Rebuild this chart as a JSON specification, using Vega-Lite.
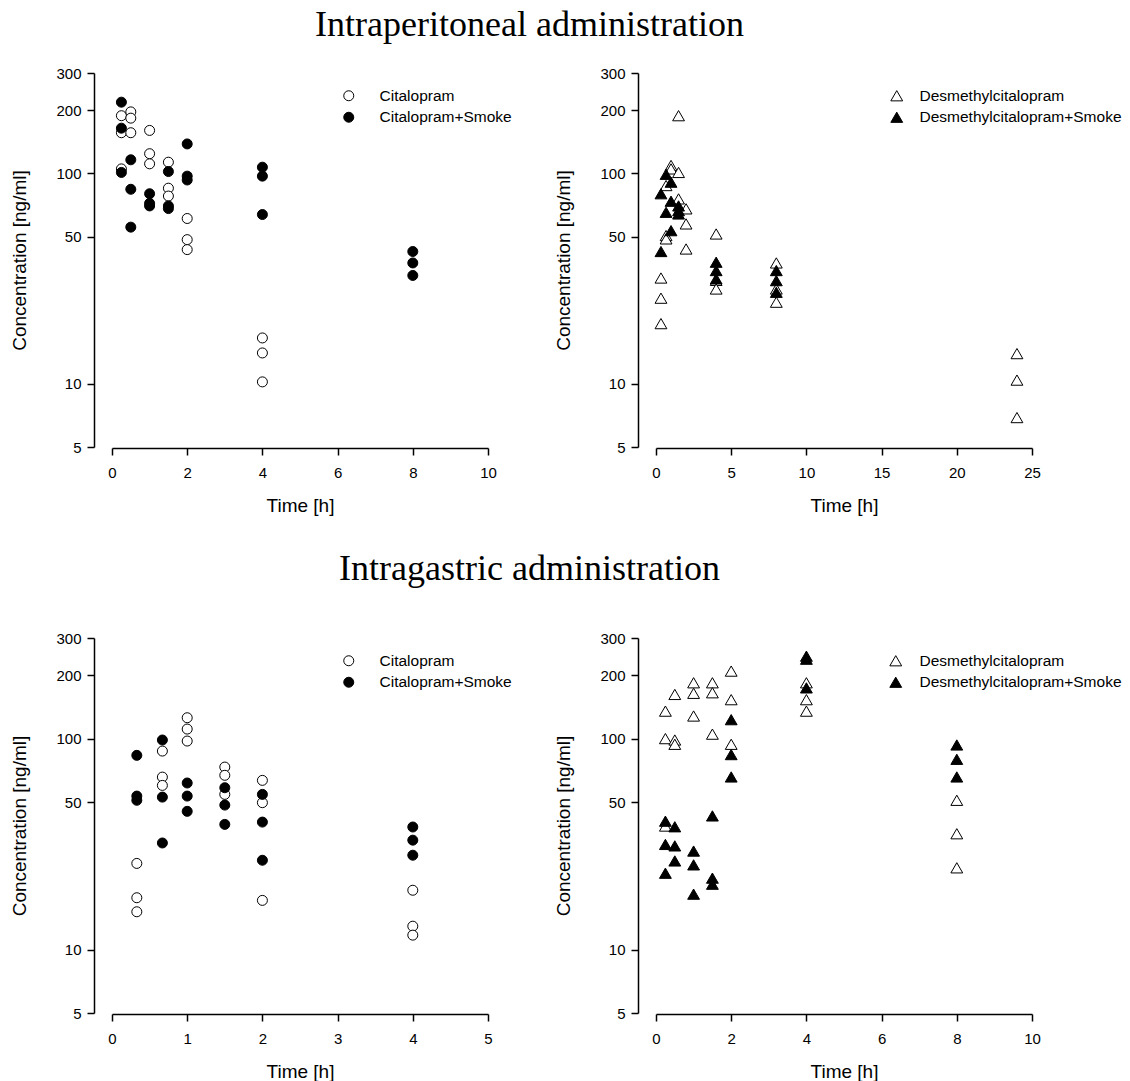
{
  "$schema": "https://vega.github.io/schema/vega-lite/v6.json",
  "padding": {"left": 10, "top": 7, "right": 0, "bottom": 0},
  "background": "white",
  "config": {
    "view": {"stroke": null},
    "font": "Liberation Sans",
    "axis": {"domainColor": "black", "domainWidth": 1.5, "tickColor": "black", "tickWidth": 1.5, "tickSize": 7, "labelColor": "black", "labelFontSize": 15, "labelFont": "Liberation Sans", "titleFont": "Liberation Sans", "titleFontSize": 19, "titleFontWeight": "normal", "titleColor": "black", "grid": false},
    "axisX": {"labelPadding": 10, "titlePadding": 16, "offset": 1, "labelFlush": false},
    "axisY": {"labelPadding": 6, "titlePadding": 26, "offset": 18, "labelFlush": false},
    "legend": {"title": null, "orient": "none", "padding": 0, "labelFontSize": 15.5, "labelColor": "black", "labelFont": "Liberation Sans", "labelLimit": 400, "symbolStrokeColor": "black", "symbolStrokeWidth": 1, "rowPadding": 4.5},
    "title": {"font": "Liberation Serif", "fontSize": 36, "fontWeight": "normal", "color": "black", "anchor": "middle", "dx": -37}
  },
  "datasets": {
    "d": [
      {"panel": "A", "g": "Citalopram", "t": 0.25, "c": 188},
      {"panel": "A", "g": "Citalopram", "t": 0.25, "c": 156},
      {"panel": "A", "g": "Citalopram", "t": 0.25, "c": 105},
      {"panel": "A", "g": "Citalopram", "t": 0.5, "c": 196},
      {"panel": "A", "g": "Citalopram", "t": 0.5, "c": 183},
      {"panel": "A", "g": "Citalopram", "t": 0.5, "c": 156},
      {"panel": "A", "g": "Citalopram", "t": 1, "c": 160},
      {"panel": "A", "g": "Citalopram", "t": 1, "c": 124},
      {"panel": "A", "g": "Citalopram", "t": 1, "c": 111},
      {"panel": "A", "g": "Citalopram", "t": 1.5, "c": 113},
      {"panel": "A", "g": "Citalopram", "t": 1.5, "c": 85},
      {"panel": "A", "g": "Citalopram", "t": 1.5, "c": 78},
      {"panel": "A", "g": "Citalopram", "t": 2, "c": 61},
      {"panel": "A", "g": "Citalopram", "t": 2, "c": 48.4},
      {"panel": "A", "g": "Citalopram", "t": 2, "c": 43.4},
      {"panel": "A", "g": "Citalopram", "t": 4, "c": 16.5},
      {"panel": "A", "g": "Citalopram", "t": 4, "c": 14.0},
      {"panel": "A", "g": "Citalopram", "t": 4, "c": 10.2},
      {"panel": "A", "g": "Citalopram+Smoke", "t": 0.25, "c": 218},
      {"panel": "A", "g": "Citalopram+Smoke", "t": 0.25, "c": 164},
      {"panel": "A", "g": "Citalopram+Smoke", "t": 0.25, "c": 101},
      {"panel": "A", "g": "Citalopram+Smoke", "t": 0.5, "c": 116},
      {"panel": "A", "g": "Citalopram+Smoke", "t": 0.5, "c": 84},
      {"panel": "A", "g": "Citalopram+Smoke", "t": 0.5, "c": 55.5},
      {"panel": "A", "g": "Citalopram+Smoke", "t": 1, "c": 80},
      {"panel": "A", "g": "Citalopram+Smoke", "t": 1, "c": 72},
      {"panel": "A", "g": "Citalopram+Smoke", "t": 1, "c": 70},
      {"panel": "A", "g": "Citalopram+Smoke", "t": 1.5, "c": 102},
      {"panel": "A", "g": "Citalopram+Smoke", "t": 1.5, "c": 70},
      {"panel": "A", "g": "Citalopram+Smoke", "t": 1.5, "c": 68},
      {"panel": "A", "g": "Citalopram+Smoke", "t": 2, "c": 138},
      {"panel": "A", "g": "Citalopram+Smoke", "t": 2, "c": 97},
      {"panel": "A", "g": "Citalopram+Smoke", "t": 2, "c": 93},
      {"panel": "A", "g": "Citalopram+Smoke", "t": 4, "c": 107},
      {"panel": "A", "g": "Citalopram+Smoke", "t": 4, "c": 97},
      {"panel": "A", "g": "Citalopram+Smoke", "t": 4, "c": 63.7},
      {"panel": "A", "g": "Citalopram+Smoke", "t": 8, "c": 42.5},
      {"panel": "A", "g": "Citalopram+Smoke", "t": 8, "c": 37.5},
      {"panel": "A", "g": "Citalopram+Smoke", "t": 8, "c": 32.7},

      {"panel": "B", "g": "Desmethylcitalopram", "t": 0.33, "c": 31.8},
      {"panel": "B", "g": "Desmethylcitalopram", "t": 0.33, "c": 25.5},
      {"panel": "B", "g": "Desmethylcitalopram", "t": 0.33, "c": 19.3},
      {"panel": "B", "g": "Desmethylcitalopram", "t": 0.67, "c": 87.5},
      {"panel": "B", "g": "Desmethylcitalopram", "t": 0.67, "c": 50.6},
      {"panel": "B", "g": "Desmethylcitalopram", "t": 0.67, "c": 48.8},
      {"panel": "B", "g": "Desmethylcitalopram", "t": 1, "c": 109},
      {"panel": "B", "g": "Desmethylcitalopram", "t": 1, "c": 105},
      {"panel": "B", "g": "Desmethylcitalopram", "t": 1.5, "c": 188},
      {"panel": "B", "g": "Desmethylcitalopram", "t": 1.5, "c": 101},
      {"panel": "B", "g": "Desmethylcitalopram", "t": 1.5, "c": 75.6},
      {"panel": "B", "g": "Desmethylcitalopram", "t": 2, "c": 67.8},
      {"panel": "B", "g": "Desmethylcitalopram", "t": 2, "c": 57.5},
      {"panel": "B", "g": "Desmethylcitalopram", "t": 2, "c": 43.7},
      {"panel": "B", "g": "Desmethylcitalopram", "t": 4, "c": 51.5},
      {"panel": "B", "g": "Desmethylcitalopram", "t": 4, "c": 31},
      {"panel": "B", "g": "Desmethylcitalopram", "t": 4, "c": 28.2},
      {"panel": "B", "g": "Desmethylcitalopram", "t": 8, "c": 37.5},
      {"panel": "B", "g": "Desmethylcitalopram", "t": 8, "c": 28.2},
      {"panel": "B", "g": "Desmethylcitalopram", "t": 8, "c": 24.4},
      {"panel": "B", "g": "Desmethylcitalopram", "t": 24, "c": 13.9},
      {"panel": "B", "g": "Desmethylcitalopram", "t": 24, "c": 10.4},
      {"panel": "B", "g": "Desmethylcitalopram", "t": 24, "c": 6.9},
      {"panel": "B", "g": "Desmethylcitalopram+Smoke", "t": 0.33, "c": 80},
      {"panel": "B", "g": "Desmethylcitalopram+Smoke", "t": 0.33, "c": 42.5},
      {"panel": "B", "g": "Desmethylcitalopram+Smoke", "t": 0.67, "c": 99},
      {"panel": "B", "g": "Desmethylcitalopram+Smoke", "t": 0.67, "c": 65.3},
      {"panel": "B", "g": "Desmethylcitalopram+Smoke", "t": 1, "c": 90.8},
      {"panel": "B", "g": "Desmethylcitalopram+Smoke", "t": 1, "c": 73.7},
      {"panel": "B", "g": "Desmethylcitalopram+Smoke", "t": 1, "c": 53.4},
      {"panel": "B", "g": "Desmethylcitalopram+Smoke", "t": 1.5, "c": 70},
      {"panel": "B", "g": "Desmethylcitalopram+Smoke", "t": 1.5, "c": 66.5},
      {"panel": "B", "g": "Desmethylcitalopram+Smoke", "t": 1.5, "c": 64.1},
      {"panel": "B", "g": "Desmethylcitalopram+Smoke", "t": 4, "c": 37.8},
      {"panel": "B", "g": "Desmethylcitalopram+Smoke", "t": 4, "c": 34.5},
      {"panel": "B", "g": "Desmethylcitalopram+Smoke", "t": 4, "c": 31.5},
      {"panel": "B", "g": "Desmethylcitalopram+Smoke", "t": 8, "c": 34.5},
      {"panel": "B", "g": "Desmethylcitalopram+Smoke", "t": 8, "c": 30.9},
      {"panel": "B", "g": "Desmethylcitalopram+Smoke", "t": 8, "c": 27.2},

      {"panel": "C", "g": "Citalopram", "t": 0.33, "c": 25.6},
      {"panel": "C", "g": "Citalopram", "t": 0.33, "c": 17.6},
      {"panel": "C", "g": "Citalopram", "t": 0.33, "c": 15.1},
      {"panel": "C", "g": "Citalopram", "t": 0.67, "c": 87.3},
      {"panel": "C", "g": "Citalopram", "t": 0.67, "c": 65.7},
      {"panel": "C", "g": "Citalopram", "t": 0.67, "c": 60},
      {"panel": "C", "g": "Citalopram", "t": 1, "c": 125.6},
      {"panel": "C", "g": "Citalopram", "t": 1, "c": 111},
      {"panel": "C", "g": "Citalopram", "t": 1, "c": 97.4},
      {"panel": "C", "g": "Citalopram", "t": 1.5, "c": 73.3},
      {"panel": "C", "g": "Citalopram", "t": 1.5, "c": 67},
      {"panel": "C", "g": "Citalopram", "t": 1.5, "c": 54.4},
      {"panel": "C", "g": "Citalopram", "t": 2, "c": 63.4},
      {"panel": "C", "g": "Citalopram", "t": 2, "c": 49.7},
      {"panel": "C", "g": "Citalopram", "t": 2, "c": 17.1},
      {"panel": "C", "g": "Citalopram", "t": 4, "c": 19.1},
      {"panel": "C", "g": "Citalopram", "t": 4, "c": 12.9},
      {"panel": "C", "g": "Citalopram", "t": 4, "c": 11.7},
      {"panel": "C", "g": "Citalopram+Smoke", "t": 0.33, "c": 83.3},
      {"panel": "C", "g": "Citalopram+Smoke", "t": 0.33, "c": 53.4},
      {"panel": "C", "g": "Citalopram+Smoke", "t": 0.33, "c": 51},
      {"panel": "C", "g": "Citalopram+Smoke", "t": 0.67, "c": 98.5},
      {"panel": "C", "g": "Citalopram+Smoke", "t": 0.67, "c": 52.8},
      {"panel": "C", "g": "Citalopram+Smoke", "t": 0.67, "c": 32},
      {"panel": "C", "g": "Citalopram+Smoke", "t": 1, "c": 61.6},
      {"panel": "C", "g": "Citalopram+Smoke", "t": 1, "c": 53.4},
      {"panel": "C", "g": "Citalopram+Smoke", "t": 1, "c": 45.2},
      {"panel": "C", "g": "Citalopram+Smoke", "t": 1.5, "c": 58.5},
      {"panel": "C", "g": "Citalopram+Smoke", "t": 1.5, "c": 48.4},
      {"panel": "C", "g": "Citalopram+Smoke", "t": 1.5, "c": 39.2},
      {"panel": "C", "g": "Citalopram+Smoke", "t": 2, "c": 54.4},
      {"panel": "C", "g": "Citalopram+Smoke", "t": 2, "c": 40.2},
      {"panel": "C", "g": "Citalopram+Smoke", "t": 2, "c": 26.5},
      {"panel": "C", "g": "Citalopram+Smoke", "t": 4, "c": 38.1},
      {"panel": "C", "g": "Citalopram+Smoke", "t": 4, "c": 33},
      {"panel": "C", "g": "Citalopram+Smoke", "t": 4, "c": 28},

      {"panel": "D", "g": "Desmethylcitalopram", "t": 0.25, "c": 135},
      {"panel": "D", "g": "Desmethylcitalopram", "t": 0.25, "c": 100},
      {"panel": "D", "g": "Desmethylcitalopram", "t": 0.25, "c": 38.5},
      {"panel": "D", "g": "Desmethylcitalopram", "t": 0.5, "c": 162},
      {"panel": "D", "g": "Desmethylcitalopram", "t": 0.5, "c": 98.5},
      {"panel": "D", "g": "Desmethylcitalopram", "t": 0.5, "c": 94},
      {"panel": "D", "g": "Desmethylcitalopram", "t": 1, "c": 184},
      {"panel": "D", "g": "Desmethylcitalopram", "t": 1, "c": 164},
      {"panel": "D", "g": "Desmethylcitalopram", "t": 1, "c": 128},
      {"panel": "D", "g": "Desmethylcitalopram", "t": 1.5, "c": 184},
      {"panel": "D", "g": "Desmethylcitalopram", "t": 1.5, "c": 165},
      {"panel": "D", "g": "Desmethylcitalopram", "t": 1.5, "c": 105},
      {"panel": "D", "g": "Desmethylcitalopram", "t": 2, "c": 209},
      {"panel": "D", "g": "Desmethylcitalopram", "t": 2, "c": 153},
      {"panel": "D", "g": "Desmethylcitalopram", "t": 2, "c": 94},
      {"panel": "D", "g": "Desmethylcitalopram", "t": 4, "c": 184},
      {"panel": "D", "g": "Desmethylcitalopram", "t": 4, "c": 153},
      {"panel": "D", "g": "Desmethylcitalopram", "t": 4, "c": 135},
      {"panel": "D", "g": "Desmethylcitalopram", "t": 8, "c": 51},
      {"panel": "D", "g": "Desmethylcitalopram", "t": 8, "c": 35.4},
      {"panel": "D", "g": "Desmethylcitalopram", "t": 8, "c": 24.4},
      {"panel": "D", "g": "Desmethylcitalopram+Smoke", "t": 0.25, "c": 40.6},
      {"panel": "D", "g": "Desmethylcitalopram+Smoke", "t": 0.25, "c": 31.5},
      {"panel": "D", "g": "Desmethylcitalopram+Smoke", "t": 0.25, "c": 23},
      {"panel": "D", "g": "Desmethylcitalopram+Smoke", "t": 0.5, "c": 38.2},
      {"panel": "D", "g": "Desmethylcitalopram+Smoke", "t": 0.5, "c": 31},
      {"panel": "D", "g": "Desmethylcitalopram+Smoke", "t": 0.5, "c": 26.3},
      {"panel": "D", "g": "Desmethylcitalopram+Smoke", "t": 1, "c": 29.3},
      {"panel": "D", "g": "Desmethylcitalopram+Smoke", "t": 1, "c": 25.2},
      {"panel": "D", "g": "Desmethylcitalopram+Smoke", "t": 1, "c": 18.3},
      {"panel": "D", "g": "Desmethylcitalopram+Smoke", "t": 1.5, "c": 43},
      {"panel": "D", "g": "Desmethylcitalopram+Smoke", "t": 1.5, "c": 21.8},
      {"panel": "D", "g": "Desmethylcitalopram+Smoke", "t": 1.5, "c": 20.4},
      {"panel": "D", "g": "Desmethylcitalopram+Smoke", "t": 2, "c": 123},
      {"panel": "D", "g": "Desmethylcitalopram+Smoke", "t": 2, "c": 84},
      {"panel": "D", "g": "Desmethylcitalopram+Smoke", "t": 2, "c": 65.8},
      {"panel": "D", "g": "Desmethylcitalopram+Smoke", "t": 4, "c": 246},
      {"panel": "D", "g": "Desmethylcitalopram+Smoke", "t": 4, "c": 238},
      {"panel": "D", "g": "Desmethylcitalopram+Smoke", "t": 4, "c": 174},
      {"panel": "D", "g": "Desmethylcitalopram+Smoke", "t": 8, "c": 93.3},
      {"panel": "D", "g": "Desmethylcitalopram+Smoke", "t": 8, "c": 79.8},
      {"panel": "D", "g": "Desmethylcitalopram+Smoke", "t": 8, "c": 65.8}
    ]
  },
  "resolve": {"scale": {"shape": "independent", "fill": "independent", "stroke": "independent", "x": "independent", "y": "independent"}, "legend": {"shape": "independent", "fill": "independent", "stroke": "independent"}},
  "spacing": 36,
  "vconcat": [
    {
      "title": {"text": "Intraperitoneal administration", "offset": 22},
      "spacing": 168,
      "bounds": "flush",
      "resolve": {"scale": {"shape": "independent", "fill": "independent", "stroke": "independent", "x": "independent", "y": "independent"}, "legend": {"shape": "independent", "fill": "independent", "stroke": "independent"}},
      "hconcat": [
        {
          "width": 376, "height": 374,
          "data": {"name": "d"},
          "transform": [{"filter": "datum.panel == 'A'"}],
          "mark": {"type": "point", "filled": true, "strokeWidth": 1, "size": 100, "opacity": 1},
          "encoding": {
            "x": {"field": "t", "type": "quantitative", "scale": {"domain": [0, 10], "nice": false}, "axis": {"values": [0, 2, 4, 6, 8, 10], "title": "Time [h]"}},
            "y": {"field": "c", "type": "quantitative", "scale": {"type": "log", "domain": [5, 300], "nice": false}, "axis": {"values": [5, 10, 50, 100, 200, 300], "format": "d", "title": "Concentration [ng/ml]"}},
            "shape": {"field": "g", "type": "nominal", "scale": {"domain": ["Citalopram", "Citalopram+Smoke"], "range": ["circle", "circle"]}, "legend": {"legendX": 229, "legendY": 15, "symbolSize": 100, "labelOffset": 23}},
            "fill": {"field": "g", "type": "nominal", "scale": {"domain": ["Citalopram", "Citalopram+Smoke"], "range": ["white", "black"]}, "legend": {"legendX": 229, "legendY": 15, "symbolSize": 100, "labelOffset": 23}},
            "stroke": {"field": "g", "type": "nominal", "scale": {"domain": ["Citalopram", "Citalopram+Smoke"], "range": ["black", "black"]}, "legend": {"legendX": 229, "legendY": 15, "symbolSize": 100, "labelOffset": 23}}
          }
        },
        {
          "width": 376, "height": 374,
          "data": {"name": "d"},
          "transform": [{"filter": "datum.panel == 'B'"}],
          "mark": {"type": "point", "filled": true, "strokeWidth": 1, "size": 140, "opacity": 1},
          "encoding": {
            "x": {"field": "t", "type": "quantitative", "scale": {"domain": [0, 25], "nice": false}, "axis": {"values": [0, 5, 10, 15, 20, 25], "title": "Time [h]"}},
            "y": {"field": "c", "type": "quantitative", "scale": {"type": "log", "domain": [5, 300], "nice": false}, "axis": {"values": [5, 10, 50, 100, 200, 300], "format": "d", "title": "Concentration [ng/ml]"}},
            "shape": {"field": "g", "type": "nominal", "scale": {"domain": ["Desmethylcitalopram", "Desmethylcitalopram+Smoke"], "range": ["triangle-up", "triangle-up"]}, "legend": {"legendX": 233, "legendY": 15, "symbolSize": 140, "labelOffset": 15}},
            "fill": {"field": "g", "type": "nominal", "scale": {"domain": ["Desmethylcitalopram", "Desmethylcitalopram+Smoke"], "range": ["white", "black"]}, "legend": {"legendX": 233, "legendY": 15, "symbolSize": 140, "labelOffset": 15}},
            "stroke": {"field": "g", "type": "nominal", "scale": {"domain": ["Desmethylcitalopram", "Desmethylcitalopram+Smoke"], "range": ["black", "black"]}, "legend": {"legendX": 233, "legendY": 15, "symbolSize": 140, "labelOffset": 15}}
          }
        }
      ]
    },
    {
      "title": {"text": "Intragastric administration", "offset": 43},
      "spacing": 168,
      "bounds": "flush",
      "resolve": {"scale": {"shape": "independent", "fill": "independent", "stroke": "independent", "x": "independent", "y": "independent"}, "legend": {"shape": "independent", "fill": "independent", "stroke": "independent"}},
      "hconcat": [
        {
          "width": 376, "height": 375,
          "data": {"name": "d"},
          "transform": [{"filter": "datum.panel == 'C'"}],
          "mark": {"type": "point", "filled": true, "strokeWidth": 1, "size": 100, "opacity": 1},
          "encoding": {
            "x": {"field": "t", "type": "quantitative", "scale": {"domain": [0, 5], "nice": false}, "axis": {"values": [0, 1, 2, 3, 4, 5], "title": "Time [h]"}},
            "y": {"field": "c", "type": "quantitative", "scale": {"type": "log", "domain": [5, 300], "nice": false}, "axis": {"values": [5, 10, 50, 100, 200, 300], "format": "d", "title": "Concentration [ng/ml]"}},
            "shape": {"field": "g", "type": "nominal", "scale": {"domain": ["Citalopram", "Citalopram+Smoke"], "range": ["circle", "circle"]}, "legend": {"legendX": 229, "legendY": 15, "symbolSize": 100, "labelOffset": 23}},
            "fill": {"field": "g", "type": "nominal", "scale": {"domain": ["Citalopram", "Citalopram+Smoke"], "range": ["white", "black"]}, "legend": {"legendX": 229, "legendY": 15, "symbolSize": 100, "labelOffset": 23}},
            "stroke": {"field": "g", "type": "nominal", "scale": {"domain": ["Citalopram", "Citalopram+Smoke"], "range": ["black", "black"]}, "legend": {"legendX": 229, "legendY": 15, "symbolSize": 100, "labelOffset": 23}}
          }
        },
        {
          "width": 376, "height": 375,
          "data": {"name": "d"},
          "transform": [{"filter": "datum.panel == 'D'"}],
          "mark": {"type": "point", "filled": true, "strokeWidth": 1, "size": 140, "opacity": 1},
          "encoding": {
            "x": {"field": "t", "type": "quantitative", "scale": {"domain": [0, 10], "nice": false}, "axis": {"values": [0, 2, 4, 6, 8, 10], "title": "Time [h]"}},
            "y": {"field": "c", "type": "quantitative", "scale": {"type": "log", "domain": [5, 300], "nice": false}, "axis": {"values": [5, 10, 50, 100, 200, 300], "format": "d", "title": "Concentration [ng/ml]"}},
            "shape": {"field": "g", "type": "nominal", "scale": {"domain": ["Desmethylcitalopram", "Desmethylcitalopram+Smoke"], "range": ["triangle-up", "triangle-up"]}, "legend": {"legendX": 232, "legendY": 15, "symbolSize": 140, "labelOffset": 16}},
            "fill": {"field": "g", "type": "nominal", "scale": {"domain": ["Desmethylcitalopram", "Desmethylcitalopram+Smoke"], "range": ["white", "black"]}, "legend": {"legendX": 232, "legendY": 15, "symbolSize": 140, "labelOffset": 16}},
            "stroke": {"field": "g", "type": "nominal", "scale": {"domain": ["Desmethylcitalopram", "Desmethylcitalopram+Smoke"], "range": ["black", "black"]}, "legend": {"legendX": 232, "legendY": 15, "symbolSize": 140, "labelOffset": 16}}
          }
        }
      ]
    }
  ]
}
